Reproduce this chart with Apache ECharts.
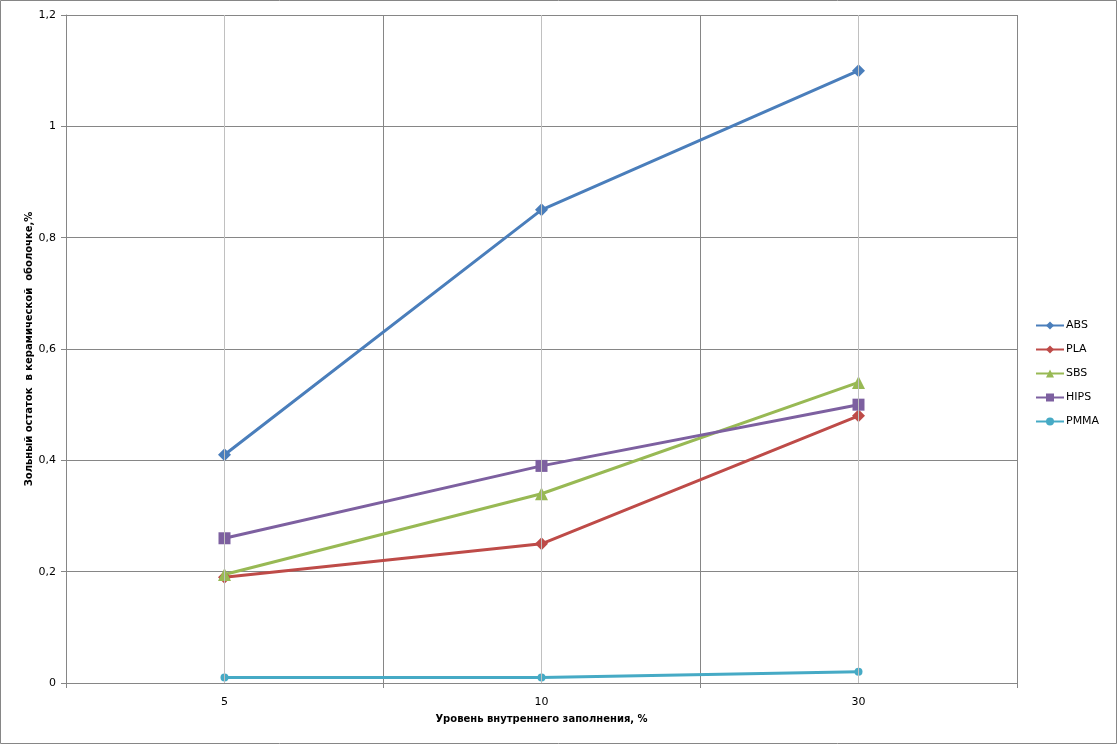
<!DOCTYPE html>
<html>
<head>
<meta charset="utf-8">
<script src="https://cdn.jsdelivr.net/npm/echarts@6/dist/echarts.min.js"></script>
<style>
html,body{margin:0;padding:0;background:#fff;}
#c{width:1118px;height:745px;}
</style>
</head>
<body>
<div id="c"></div>
<script>
const categories = ['5', '10', '30'];
const seriesNames = ['ABS', 'PLA', 'SBS', 'HIPS', 'PMMA'];
const absValues = [0.41, 0.85, 1.10];
const plaValues = [0.19, 0.25, 0.48];
const sbsValues = [0.195, 0.34, 0.54];
const hipsValues = [0.26, 0.39, 0.50];
const pmmaValues = [0.01, 0.01, 0.02];
const yTicks = { min: 0, max: 1.2, interval: 0.2 };

const colors = ['#4a7ebb', '#be4b48', '#98b954', '#7d60a0', '#46aac5'];
const symbols = ['diamond', 'diamond', 'triangle', 'rect', 'circle'];
const symbolSizes = [13, 13, 13, 12, 8];
const dataSets = [absValues, plaValues, sbsValues, hipsValues, pmmaValues];

const font = '"DejaVu Sans", Verdana, sans-serif';

const series = [{
  name: '__grid',
  type: 'line',
  data: [],
  silent: true,
  z: 0,
  markLine: {
    silent: true,
    symbol: 'none',
    animation: false,
    label: { show: false },
    lineStyle: { color: '#c0c0c0', width: 1, type: 'solid' },
    emphasis: { disabled: true },
    data: categories.map(c => ({ xAxis: c }))
  }
}];
seriesNames.forEach((n, i) => {
  series.push({
    name: n,
    type: 'line',
    data: dataSets[i],
    symbol: symbols[i],
    symbolSize: symbolSizes[i],
    showAllSymbol: true,
    lineStyle: { color: colors[i], width: 3 },
    itemStyle: { color: colors[i] },
    z: 3
  });
});

const chart = echarts.init(document.getElementById('c'));
chart.setOption({
  animation: false,
  backgroundColor: '#fff',
  graphic: [{
    type: 'rect',
    shape: { x: 0.5, y: 0.5, width: 1116, height: 743 },
    style: { fill: 'none', stroke: '#868686', lineWidth: 1 },
    silent: true, z: 100
  }],
  grid: { left: 66, right: 101, top: 15, bottom: 62 },
  legend: {
    data: seriesNames,
    orient: 'vertical',
    left: 1030,
    top: 315,
    itemWidth: 28,
    itemHeight: 10,
    itemGap: 13,
    textStyle: { fontFamily: font, fontSize: 11, color: '#000', padding: [0, 0, 0, -3] },
    selectedMode: false
  },
  xAxis: {
    type: 'category',
    data: categories,
    boundaryGap: true,
    name: 'Уровень внутреннего заполнения, %',
    nameLocation: 'middle',
    nameGap: 31,
    nameMoveOverlap: false,
    nameTextStyle: { fontFamily: font, fontSize: 10, fontWeight: 'bold', color: '#000' },
    axisLine: { lineStyle: { color: '#868686', width: 1 } },
    axisTick: { show: true, length: 5, lineStyle: { color: '#868686' } },
    axisLabel: { fontFamily: font, fontSize: 11, color: '#000', margin: 14 },
    splitLine: { show: true, interval: 0, lineStyle: { color: '#868686', width: 1 } }
  },
  yAxis: {
    type: 'value',
    min: yTicks.min,
    max: yTicks.max,
    interval: yTicks.interval,
    name: 'Зольный остаток  в керамической  оболочке,%',
    nameLocation: 'middle',
    nameGap: 32,
    nameMoveOverlap: false,
    nameTextStyle: { fontFamily: font, fontSize: 10, fontWeight: 'bold', color: '#000' },
    axisLine: { show: true, lineStyle: { color: '#868686', width: 1 } },
    axisTick: { show: true, length: 5, lineStyle: { color: '#868686' } },
    axisLabel: {
      fontFamily: font, fontSize: 11, color: '#000', margin: 10,
      formatter: v => String(Math.round(v * 10) / 10).replace('.', ',')
    },
    splitLine: { show: true, lineStyle: { color: '#868686', width: 1 } }
  },
  series: series
});
</script>
</body>
</html>
